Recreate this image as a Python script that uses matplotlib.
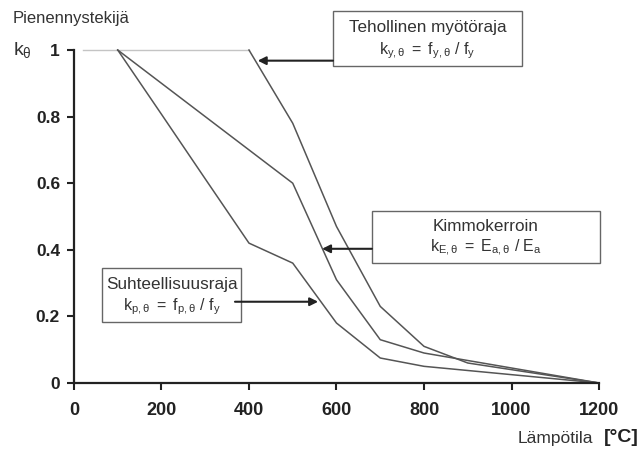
import numpy as np
import matplotlib
matplotlib.use("Agg")
import matplotlib.pyplot as plt
from matplotlib.patches import Rectangle

plt.rcParams['font.family'] = ['Liberation Sans', 'DejaVu Sans']
plt.rcParams['mathtext.fontset'] = 'custom'
plt.rcParams['mathtext.rm'] = 'Liberation Sans'
plt.rcParams['mathtext.it'] = 'Liberation Sans:italic'

# reduction factors for steel at elevated temperature
temp_y = [20, 100, 200, 300, 400, 500, 600, 700, 800, 900, 1000, 1100, 1200]
k_y = [1.0, 1.0, 1.0, 1.0, 1.0, 0.78, 0.47, 0.23, 0.11, 0.06, 0.04, 0.02, 0.0]
temp = [100, 200, 300, 400, 500, 600, 700, 800, 900, 1000, 1100, 1200]
k_E = [1.0, 0.9, 0.8, 0.7, 0.6, 0.31, 0.13, 0.09, 0.0675, 0.045, 0.0225, 0.0]
k_p = [1.0, 0.807, 0.613, 0.42, 0.36, 0.18, 0.075, 0.05, 0.0375, 0.025, 0.0125, 0.0]
x_ticks = [0, 200, 400, 600, 800, 1000, 1200]
y_ticks = [0, 0.2, 0.4, 0.6, 0.8, 1]
y_ticklabels = ['0', '0.2', '0.4', '0.6', '0.8', '1']

fig = plt.figure(figsize=(6.41, 4.58), dpi=100)
ax = fig.add_axes([0.1154, 0.1638, 0.8191, 0.727])

line_c = '#555555'
flat = 5  # points of the flat part of k_y
ax.plot(temp_y[:flat], k_y[:flat], color='#c4c4c4', lw=1.0, clip_on=False)
ax.plot(temp_y[flat - 1:], k_y[flat - 1:], color=line_c, lw=1.1, clip_on=False)
ax.plot(temp, k_E, color=line_c, lw=1.1, clip_on=False)
ax.plot(temp, k_p, color=line_c, lw=1.1, clip_on=False)

ax.set_xlim(0, 1200)
ax.set_ylim(0, 1)
ax.set_xticks(x_ticks)
ax.set_xticklabels([str(t) for t in x_ticks])
ax.set_yticks(y_ticks)
ax.set_yticklabels(y_ticklabels)
for s in ['top', 'right']:
    ax.spines[s].set_visible(False)
for s in ['left', 'bottom']:
    ax.spines[s].set_linewidth(1.6)
    ax.spines[s].set_color('#222222')
ax.tick_params(direction='out', length=5, width=1.5, color='#222222',
               labelsize=12.5, labelcolor='#222222', pad=5)
ax.tick_params(axis='x', labelsize=13, pad=9)
for lab in ax.get_xticklabels() + ax.get_yticklabels():
    lab.set_fontweight('bold')

txt_c = '#333333'
box_c = '#666666'

def box(x0, x1, y0, y1, line1, line2):
    ax.add_patch(Rectangle((x0, y0), x1 - x0, y1 - y0, fill=True, facecolor='white',
                           edgecolor=box_c, lw=1.0, clip_on=False, zorder=3))
    xc = (x0 + x1) / 2
    h = y1 - y0
    ax.text(xc, y0 + h * 0.70, line1, ha='center', va='center', fontsize=12.3,
            color=txt_c, zorder=4, clip_on=False)
    ax.text(xc, y0 + h * 0.28, line2, ha='center', va='center', fontsize=11.5,
            color=txt_c, zorder=4, clip_on=False)

arrow = dict(arrowstyle='-|>', color='#222222', lw=1.5, mutation_scale=12,
             shrinkA=0, shrinkB=0)

# yield strength
box(592, 1024, 0.953, 1.116, 'Tehollinen myötöraja',
    r'$\mathregular{k_{y,\theta}\ =\ f_{y,\theta}\ /\ f_y}$')
ax.annotate('', xy=(420, 0.968), xytext=(592, 0.968), arrowprops=arrow,
            annotation_clip=False)

# modulus of elasticity
box(681, 1202, 0.361, 0.517, 'Kimmokerroin',
    r'$\mathregular{k_{E,\theta}\ =\ E_{a,\theta}\ /\ E_a}$')
ax.annotate('', xy=(567, 0.403), xytext=(681, 0.403), arrowprops=arrow,
            annotation_clip=False)

# proportional limit
box(64, 382, 0.183, 0.346, 'Suhteellisuusraja',
    r'$\mathregular{k_{p,\theta}\ =\ f_{p,\theta}\ /\ f_y}$')
ax.annotate('', xy=(558, 0.244), xytext=(368, 0.244), arrowprops=arrow,
            annotation_clip=False)

fig.text(13 / 641, 1 - 18 / 458, 'Pienennystekijä', fontsize=12, color=txt_c,
         ha='left', va='center')
fig.text(13 / 641, 1 - 50 / 458, r'$\mathregular{k_\theta}$', fontsize=14,
         color=txt_c, ha='left', va='center')
fig.text(518 / 641, 1 - 439 / 458, 'Lämpötila', fontsize=12.5, color=txt_c,
         ha='left', va='center')
fig.text(604 / 641, 1 - 437 / 458, '[°C]', fontsize=14, fontweight='bold',
         color='#222222', ha='left', va='center')

fig.savefig('out.png', dpi=100)
